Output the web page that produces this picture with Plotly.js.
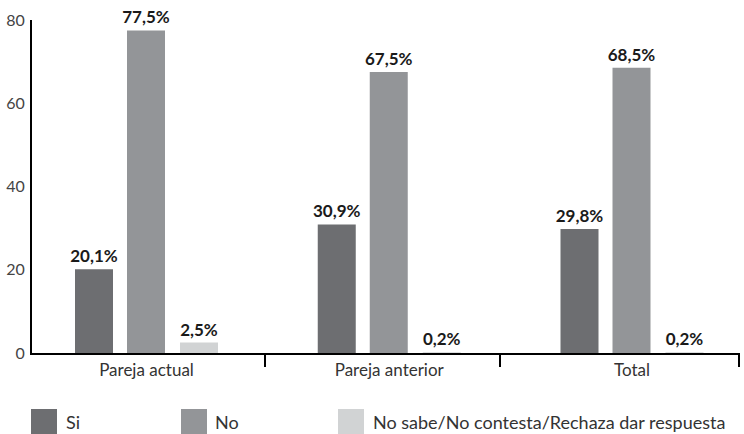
<!DOCTYPE html>
<html>
<head>
<meta charset="utf-8">
<script src="https://cdn.plot.ly/plotly-3.0.1.min.js"></script>
<style>html,body{margin:0;padding:0;background:#fff;}#chart{width:744px;height:434px;}</style>
</head>
<body>
<div id="chart"></div>
<script>
const categories = ["Pareja actual", "Pareja anterior", "Total"];
const seriesNames = ["Si", "No", "No sabe/No contesta/Rechaza dar respuesta"];
const siValues = [20.1, 30.9, 29.8];
const noValues = [77.5, 67.5, 68.5];
const nsValues = [2.5, 0.2, 0.2];
const yTicks = [0, 20, 40, 60, 80];
const colors = ["#6d6e71", "#939598", "#d1d3d4"];

// layout geometry (pixels) -> category units
const plotLeft = 32, plotWidth = 708, plotTop = 20, plotHeight = 333;
const catSpacing = 242.75;            // px between group centres
const firstCenter = 146.5;            // px of first group centre
const barWidthPx = 38;
const barOffsetsPx = [-71.5, -19.5, 33.5];
const xRange = [-(firstCenter - plotLeft) / catSpacing,
                -(firstCenter - plotLeft) / catSpacing + plotWidth / catSpacing];

const allValues = [siValues, noValues, nsValues];
const traces = allValues.map((vals, i) => ({
  type: "bar",
  name: seriesNames[i],
  x: categories,
  y: vals,
  width: barWidthPx / catSpacing,
  offset: barOffsetsPx[i] / catSpacing,
  marker: {color: colors[i], line: {width: 0}},
  texttemplate: "%{y:.1f}%",
  textposition: "outside",
  constraintext: "none",
  textfont: {family: "Lato, sans-serif", size: 17, color: "#1a1a1a", weight: 700},
  cliponaxis: false,
  showlegend: false,
  hoverinfo: "x+y"
}));

const shapes = [];
const annotations = [];
// boundary tick marks below the x axis
[265, 500, 739].forEach(px => {
  const xp = (px - plotLeft) / plotWidth;
  shapes.push({type: "line", xref: "paper", yref: "paper", x0: xp, x1: xp,
    y0: 0, y1: -14 / plotHeight, line: {color: "#000", width: 2}});
});
// custom legend
const legBoxX = [31, 181, 338];
const legBoxW = 26;
const legTextX = [66, 215, 373];
const toPX = px => (px - plotLeft) / plotWidth;
const toPY = py => (plotTop + plotHeight - py) / plotHeight;
seriesNames.forEach((n, i) => {
  shapes.push({type: "rect", xref: "paper", yref: "paper",
    x0: toPX(legBoxX[i]), x1: toPX(legBoxX[i] + legBoxW),
    y0: toPY(434), y1: toPY(409), line: {width: 0}, fillcolor: colors[i]});
  annotations.push({xref: "paper", yref: "paper", x: toPX(legTextX[i]),
    y: toPY(421.5), xanchor: "left", yanchor: "middle", showarrow: false,
    xshift: -2,
    text: n, font: {family: "Lato, sans-serif", size: 18, color: "#333"}});
});

const layout = {
  width: 744, height: 434,
  margin: {l: plotLeft, r: 744 - plotLeft - plotWidth, t: plotTop, b: 434 - plotTop - plotHeight},
  paper_bgcolor: "#fff", plot_bgcolor: "#fff",
  separators: ",.",
  barmode: "overlay",
  showlegend: false,
  font: {family: "Lato, sans-serif"},
  xaxis: {
    type: "category",
    range: xRange,
    showline: true, linecolor: "#000", linewidth: 2,
    ticks: "", showgrid: false, zeroline: false,
    tickfont: {family: "Lato, sans-serif", size: 17, color: "#333"},
    ticklabelstandoff: 1
  },
  yaxis: {
    range: [0, 80],
    tickvals: yTicks,
    showline: true, linecolor: "#000", linewidth: 2,
    ticks: "", showgrid: false, zeroline: false,
    tickfont: {family: "Lato, sans-serif", size: 16, color: "#444"},
    ticklabelstandoff: 2
  },
  shapes: shapes,
  annotations: annotations
};

Plotly.newPlot("chart", traces, layout, {displayModeBar: false, staticPlot: true});
</script>
</body>
</html>
